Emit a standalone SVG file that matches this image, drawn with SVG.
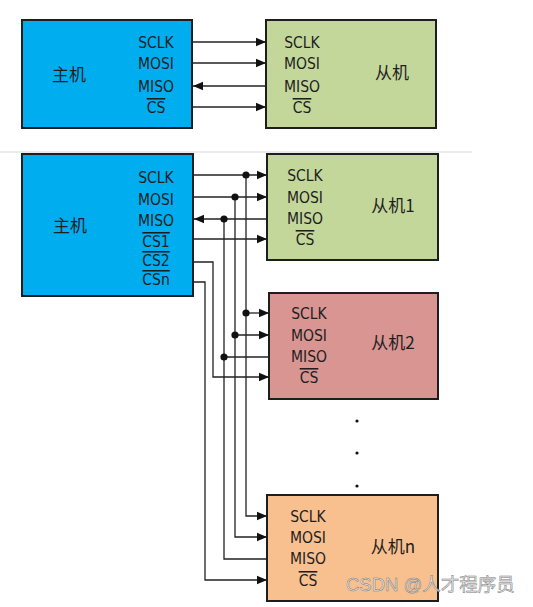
<svg xmlns="http://www.w3.org/2000/svg" width="533" height="607" viewBox="0 0 533 607">
<style>
.box{stroke:#1e1e1e;stroke-width:2}
.m{fill:#00aeef}
.g{fill:#c4d79b}
.r{fill:#d99592}
.o{fill:#f9c08f}
.sig{font-family:"DejaVu Sans Condensed","DejaVu Sans",sans-serif;font-stretch:condensed;font-size:15.5px;fill:#1e1e1e;text-anchor:middle}
.ov{text-decoration:overline}
.cn{font-family:"Noto Sans CJK SC","Noto Sans",sans-serif;font-size:17px;fill:#1e1e1e;text-anchor:middle}
.w{stroke:#222;stroke-width:1.3;fill:none}
.dot{fill:#111}
</style>
<defs>
<marker id="ah" markerUnits="userSpaceOnUse" markerWidth="10" markerHeight="10" refX="10" refY="5" orient="auto">
<path d="M0,0.8 L10,5 L0,9.2 z" fill="#111"/>
</marker>
</defs>
<rect width="533" height="607" fill="#fff"/>
<line x1="0" y1="152" x2="472" y2="152" stroke="#e4e4e4" stroke-width="1.5"/>

<g id="master1">
<rect class="box m" x="22" y="20" width="170" height="108"/>
<text class="cn" x="69" y="81">主机</text>
<text class="sig" x="156" y="48">SCLK</text>
<text class="sig" x="156" y="69">MOSI</text>
<text class="sig" x="156" y="92">MISO</text>
<text class="sig ov" x="156" y="113">CS</text>
</g>
<g id="slave">
<rect class="box g" x="266" y="20" width="170" height="108"/>
<text class="cn" x="392" y="79">从机</text>
<text class="sig" x="302" y="48">SCLK</text>
<text class="sig" x="302" y="69">MOSI</text>
<text class="sig" x="302" y="92">MISO</text>
<text class="sig ov" x="302" y="113">CS</text>
</g>

<g id="master2">
<rect class="box m" x="22" y="154" width="171" height="142"/>
<text class="cn" x="70" y="232">主机</text>
<text class="sig" x="156" y="183">SCLK</text>
<text class="sig" x="156" y="205">MOSI</text>
<text class="sig" x="156" y="226">MISO</text>
<text class="sig ov" x="156" y="247">CS1</text>
<text class="sig ov" x="156" y="266">CS2</text>
<text class="sig ov" x="156" y="285">CSn</text>
</g>
<g id="slave1">
<rect class="box g" x="267" y="154" width="171" height="106"/>
<text class="cn" x="393" y="212">从机1</text>
<text class="sig" x="305" y="181">SCLK</text>
<text class="sig" x="305" y="203">MOSI</text>
<text class="sig" x="305" y="224">MISO</text>
<text class="sig ov" x="305" y="245">CS</text>
</g>
<g id="slave2">
<rect class="box r" x="269" y="293" width="169" height="106"/>
<text class="cn" x="393" y="349">从机2</text>
<text class="sig" x="309" y="319">SCLK</text>
<text class="sig" x="309" y="341">MOSI</text>
<text class="sig" x="309" y="362">MISO</text>
<text class="sig ov" x="309" y="383">CS</text>
</g>
<g id="slaven">
<rect class="box o" x="267" y="495" width="171" height="106"/>
<text class="cn" x="393" y="553">从机n</text>
<text class="sig" x="308" y="522">SCLK</text>
<text class="sig" x="308" y="543">MOSI</text>
<text class="sig" x="308" y="564">MISO</text>
<text class="sig ov" x="308" y="586">CS</text>
</g>

<g id="ellipsis">
<circle class="dot" cx="357" cy="421" r="1.6"/>
<circle class="dot" cx="357" cy="453" r="1.6"/>
<circle class="dot" cx="357" cy="486" r="1.6"/>
</g>

<g id="connectors">
<line class="w" x1="193" y1="42" x2="266" y2="42" marker-end="url(#ah)"/>
<line class="w" x1="193" y1="63" x2="266" y2="63" marker-end="url(#ah)"/>
<line class="w" x1="266" y1="86" x2="193" y2="86" marker-end="url(#ah)"/>
<line class="w" x1="193" y1="107" x2="266" y2="107" marker-end="url(#ah)"/>

<line class="w" x1="193" y1="175" x2="267" y2="175" marker-end="url(#ah)"/>
<line class="w" x1="193" y1="197" x2="267" y2="197" marker-end="url(#ah)"/>
<line class="w" x1="267" y1="219" x2="194" y2="219" marker-end="url(#ah)"/>
<line class="w" x1="193" y1="239" x2="267" y2="239" marker-end="url(#ah)"/>

<polyline class="w" points="246,175 246,516 267,516" marker-end="url(#ah)"/>
<polyline class="w" points="235,197 235,537 267,537" marker-end="url(#ah)"/>
<polyline class="w" points="224,219 224,559 267,559"/>
<polyline class="w" points="193,262 213,262 213,377 269,377" marker-end="url(#ah)"/>
<polyline class="w" points="193,282 205,282 205,580 267,580" marker-end="url(#ah)"/>

<line class="w" x1="246" y1="313" x2="269" y2="313" marker-end="url(#ah)"/>
<line class="w" x1="235" y1="335" x2="269" y2="335" marker-end="url(#ah)"/>
<line class="w" x1="224" y1="357" x2="269" y2="357"/>

<circle class="dot" cx="246" cy="175" r="3.6"/>
<circle class="dot" cx="235" cy="197" r="3.6"/>
<circle class="dot" cx="224" cy="219" r="3.6"/>
<circle class="dot" cx="246" cy="313" r="3.6"/>
<circle class="dot" cx="235" cy="335" r="3.6"/>
<circle class="dot" cx="224" cy="357" r="3.6"/>
</g>

<text x="346" y="591" font-family="Liberation Sans,'Noto Sans CJK SC',sans-serif" font-size="18.5" fill="#e6e6e6" fill-opacity="0.85" stroke="#7a7a7a" stroke-width="0.5">CSDN @人才程序员</text>
</svg>
